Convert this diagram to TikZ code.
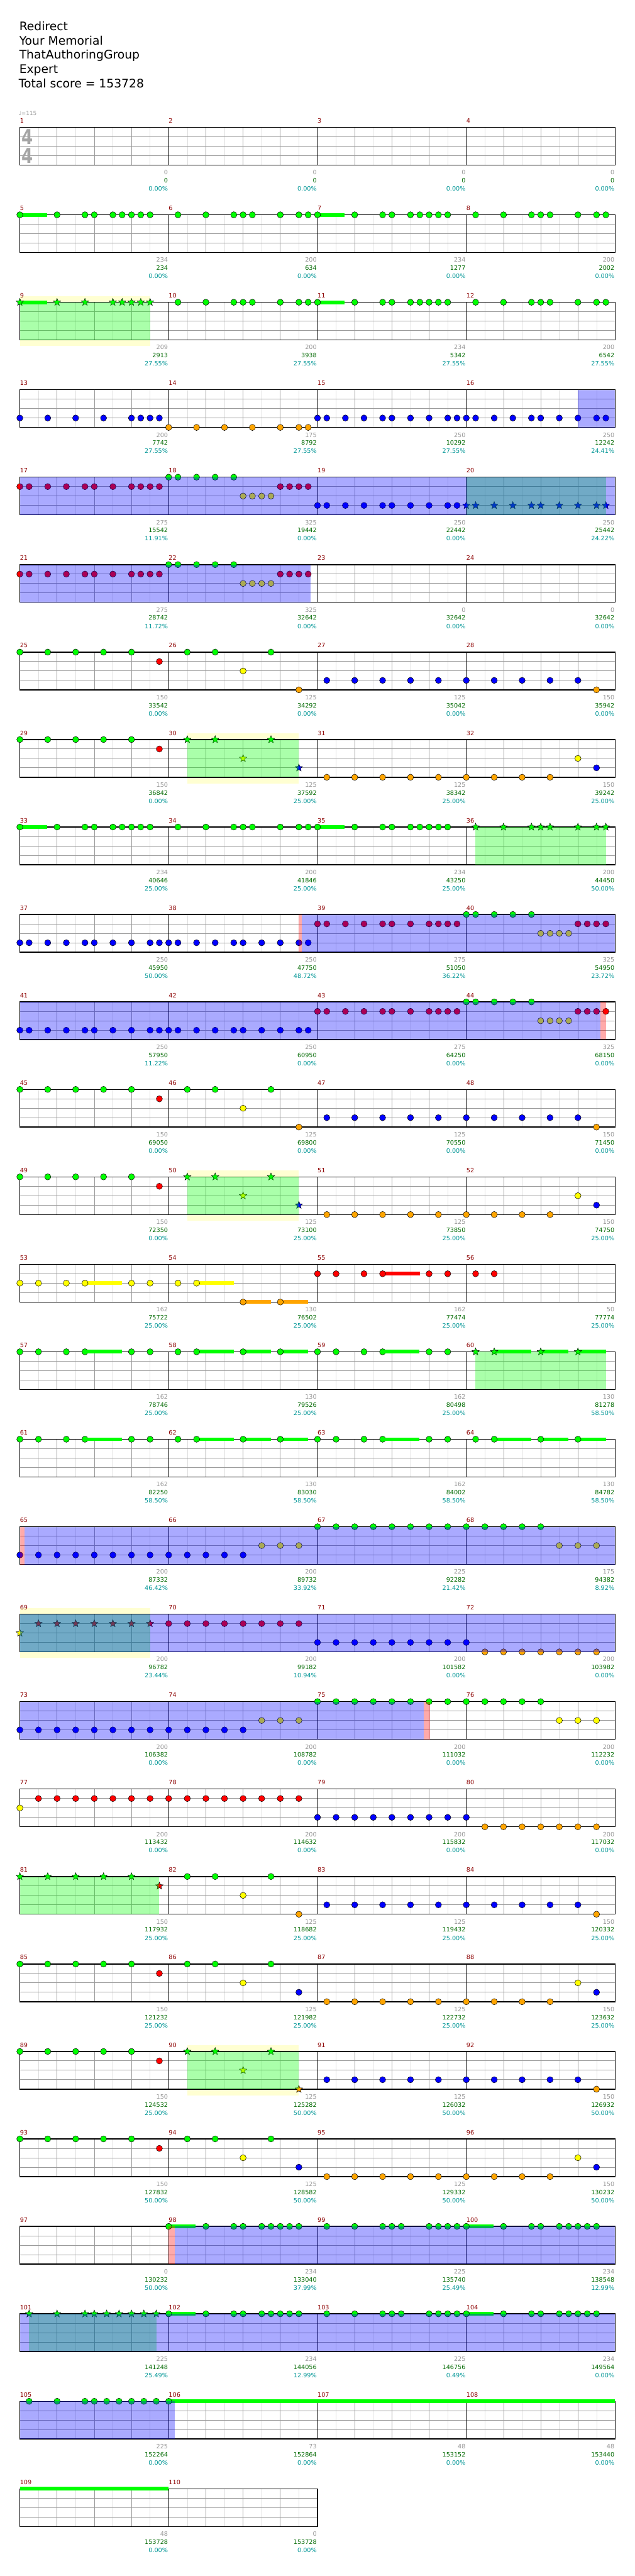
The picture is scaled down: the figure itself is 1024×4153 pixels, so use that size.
\documentclass[tikz,border=0pt]{standalone}
\usepackage{fontspec}
\setmainfont{DejaVu Sans}
\usetikzlibrary{shapes.geometric}
\definecolor{cG}{RGB}{0,255,0}
\definecolor{cR}{RGB}{255,0,0}
\definecolor{cY}{RGB}{255,255,0}
\definecolor{cB}{RGB}{0,0,255}
\definecolor{cO}{RGB}{255,165,0}
\definecolor{mred}{RGB}{140,0,0}
\definecolor{tgray}{RGB}{150,150,150}
\definecolor{tgreen}{RGB}{0,105,0}
\definecolor{tcyan}{RGB}{0,150,150}
\definecolor{ybgc}{RGB}{255,255,210}
\definecolor{lgray}{RGB}{222,222,222}
\definecolor{mgray}{RGB}{155,155,155}
\definecolor{tsig}{RGB}{165,165,165}
% geometry helpers
\newcommand\mxy[3]{%
  \pgfmathsetmacro\nx{32+240*mod(#1-1,4)+15*#2}%
  \pgfmathsetmacro\ny{205.3+141*floor((#1-1)/4)+15.2*#3}%
}
\newcommand\nts[4]{\foreach \tv in {#3}{\mxy{#1}{\tv}{#2}\filldraw[fill=#4,draw=black,line width=0.5pt] (\nx,\ny) circle[radius=5pt];}}
\newcommand\sts[4]{\foreach \tv in {#3}{\mxy{#1}{\tv}{#2}\node[starnote,fill=#4] at (\nx,\ny) {};}}
\newcommand\nG[2]{\nts{#1}{0}{#2}{cG}}
\newcommand\nR[2]{\nts{#1}{1}{#2}{cR}}
\newcommand\nY[2]{\nts{#1}{2}{#2}{cY}}
\newcommand\nB[2]{\nts{#1}{3}{#2}{cB}}
\newcommand\nO[2]{\nts{#1}{4}{#2}{cO}}
\newcommand\sG[2]{\sts{#1}{0}{#2}{cG}}
\newcommand\sR[2]{\sts{#1}{1}{#2}{cR}}
\newcommand\sY[2]{\sts{#1}{2}{#2}{cY}}
\newcommand\sB[2]{\sts{#1}{3}{#2}{cB}}
\newcommand\sO[2]{\sts{#1}{4}{#2}{cO}}
\newcommand\sus[5]{\mxy{#1}{#3}{#2}\let\xa\nx\mxy{#1}{#4}{#2}\fill[#5] (\xa,\ny-3) rectangle (\nx,\ny+3);}
\newcommand\ovl[5]{\mxy{#1}{#2}{0}\let\xa\nx\let\ya\ny\mxy{#3}{#4}{4}\fill[#5] (\xa,\ya) rectangle (\nx,\ny);}
\newcommand\ybg[3]{\mxy{#1}{#2}{0}\let\xa\nx\let\ya\ny\mxy{#1}{#3}{4}\fill[ybgc] (\xa,\ya-10) rectangle (\nx,\ny+10);}
\newcommand\staff[2]{%
  \pgfmathsetmacro\tp{205.3+141*#1}%
  \pgfmathsetmacro\bt{\tp+60.8}%
  \pgfmathsetmacro\rx{32+240*#2}%
  \pgfmathtruncatemacro\nm{#2-1}%
  \fill[white] (32,\tp) rectangle (\rx,\bt);
  \foreach \j in {0,...,\nm}{%
    \foreach \dd in {30,90,150,210}{\draw[gEighth] (32+240*\j+\dd,\tp) -- ++(0,60.8);}
    \foreach \dd in {60,120,180}{\draw[gBeat] (32+240*\j+\dd,\tp) -- ++(0,60.8);}}
  \foreach \k in {1,2,3}{\draw[gLane] (32,\tp+15.2*\k) -- (\rx,\tp+15.2*\k);}
  \foreach \j in {1,...,\nm}{\draw[gBar] (32+240*\j,\tp) -- ++(0,60.8);}
  \draw[gBorder] (32,\tp) rectangle (\rx,\bt);
}
\newcommand\mtext[4]{%
  \pgfmathsetmacro\xl{32+240*mod(#1-1,4)}%
  \pgfmathsetmacro\tp{205.3+141*floor((#1-1)/4)}%
  \node[mnum] (m#1) at (\xl,\tp-7) {#1};
  \node[sA] (a#1) at (\xl+239,\tp+76.4) {#2};
  \node[sB] (b#1) at (\xl+239,\tp+89.4) {#3};
  \node[sC] (c#1) at (\xl+239,\tp+102.6) {#4\%};
}
% patterns
\newcommand\PA[1]{\sus{#1}{0}{0}{2.92}{cG}\nG{#1}{0,4,7,8,10,11,12,13,14}}
\newcommand\PB[1]{\nG{#1}{1,4,7,8,9,12,14,15}}
\newcommand\PRed[1]{\nR{#1}{0,1,3,5,7,8,10,12,13,14,15}}
\newcommand\PMix[1]{\nG{#1}{0,1,3,5,7}\nY{#1}{8,9,10,11}\nR{#1}{12,13,14,15}}
\newcommand\PBl[1]{\nB{#1}{0,1,3,5,7,8,10,12,14,15}}
\newcommand\PC[1]{\nG{#1}{0,3,6,9,12}\nR{#1}{15}}
\newcommand\PE[1]{\nG{#1}{0,2,5,7,12,14}\sus{#1}{0}{7}{10.95}{cG}}
\begin{document}
\begin{tikzpicture}[x=1pt,y=-1pt,
  gEighth/.style={draw=lgray,line width=0.6pt},
  gBeat/.style={draw=mgray,line width=0.7pt},
  gLane/.style={draw=mgray,line width=0.9pt},
  gBar/.style={draw=black,line width=0.8pt},
  gBorder/.style={draw=black,line width=1.4pt},
  starnote/.style={star,star points=5,star point ratio=2.3,minimum size=12.5pt,inner sep=0pt,draw=black,line width=0.5pt},
  gov/.style={fill=cG,fill opacity=0.333},
  bov/.style={fill=cB,fill opacity=0.333},
  pov/.style={fill=cR,fill opacity=0.333},
  small/.style={inner sep=0pt,font=\fontsize{9.8}{11}\selectfont},
  mnum/.style={small,anchor=base west,text=mred},
  sA/.style={small,anchor=base east,text=tgray},
  sB/.style={small,anchor=base east,text=tgreen},
  sC/.style={small,anchor=base east,text=tcyan},
  head/.style={inner sep=0pt,anchor=base west,font=\fontsize{19}{21}\selectfont}]
\useasboundingbox (0,0) rectangle (1024,4153);
\fill[white] (0,0) rectangle (1024,4153);
% header
\node[head] (h1) at (31,49.3) {Redirect};
\node[head] (h2) at (31,72.2) {Your Memorial};
\node[head] (h3) at (31,95.3) {ThatAuthoringGroup};
\node[head] (h4) at (31,118.4) {Expert};
\node[head] (h5) at (30,141.6) {Total score = 153728};
\node[inner sep=0pt,anchor=base west,text=tgray,font=\fontsize{9}{10}\selectfont] (tempo) at (30,185.7) {♩=115};
% yellow backgrounds
\ybg{9}{0}{14}\ybg{30}{2}{14}\ybg{50}{2}{14}\ybg{69}{0}{14}\ybg{90}{2}{14}
% staffs
\foreach \r in {0,...,26}{\staff{\r}{4}}
\staff{27}{2}
% time signature
\node[inner sep=0pt,text=tsig,font=\fontsize{33}{33}\bfseries] (ts1) at (44,220.8) {\scalebox{0.8}[1]{4}};
\node[inner sep=0pt,text=tsig,font=\fontsize{33}{33}\bfseries] (ts2) at (44,250.8) {\scalebox{0.8}[1]{4}};
% notes
\PA{5}\PB{6}\PA{7}\PB{8}
\sus{9}{0}{0}{2.92}{cG}\sG{9}{0,4,7,10,11,12,13,14}\PB{10}\PA{11}\PB{12}
\nB{13}{0,3,6,9,12,13,14,15}\nO{14}{0,3,6,9,12,14,15}\PBl{15}\PBl{16}
\PRed{17}\PMix{18}\PBl{19}\sB{20}{0,1,3,5,7,8,10,12,14,15}
\PRed{21}\PMix{22}
\PC{25}\nG{26}{2,5,11}\nY{26}{8}\nO{26}{14}\nB{27}{1,4,7,10,13}\nB{28}{0,3,6,9,12}\nO{28}{14}
\PC{29}\sG{30}{2,5,11}\sY{30}{8}\sB{30}{14}\nO{31}{1,4,7,10,13}\nO{32}{0,3,6,9}\nY{32}{12}\nB{32}{14}
\PA{33}\PB{34}\PA{35}\sG{36}{1,4,7,8,9,12,14,15}
\PBl{37}\PBl{38}\PRed{39}\PMix{40}
\PBl{41}\PBl{42}\PRed{43}\PMix{44}
\PC{45}\nG{46}{2,5,11}\nY{46}{8}\nO{46}{14}\nB{47}{1,4,7,10,13}\nB{48}{0,3,6,9,12}\nO{48}{14}
\PC{49}\sG{50}{2,5,11}\sY{50}{8}\sB{50}{14}\nO{51}{1,4,7,10,13}\nO{52}{0,3,6,9}\nY{52}{12}\nB{52}{14}
\sus{53}{2}{7}{10.95}{cY}\nY{53}{0,2,5,7,12,14}
\sus{54}{2}{3}{7}{cY}\nY{54}{1,3}\sus{54}{4}{8}{11}{cO}\sus{54}{4}{12}{15}{cO}\nO{54}{8,12}
\sus{55}{1}{7}{11}{cR}\nR{55}{0,2,5,7,12,14}\nR{56}{1,3}
\PE{57}\sus{58}{0}{3}{7}{cG}\sus{58}{0}{8}{11}{cG}\sus{58}{0}{12}{15}{cG}\nG{58}{1,3,8,12}
\PE{59}\sus{60}{0}{3}{7}{cG}\sus{60}{0}{8}{11}{cG}\sus{60}{0}{12}{15}{cG}\sG{60}{1,3,8,12}
\PE{61}\sus{62}{0}{3}{7}{cG}\sus{62}{0}{8}{11}{cG}\sus{62}{0}{12}{15}{cG}\nG{62}{1,3,8,12}
\PE{63}\sus{64}{0}{3}{7}{cG}\sus{64}{0}{8}{11}{cG}\sus{64}{0}{12}{15}{cG}\nG{64}{1,3,8,12}
\nB{65}{0,2,4,6,8,10,12,14}\nB{66}{0,2,4,6,8}\nY{66}{10,12,14}\nG{67}{0,2,4,6,8,10,12,14}\nG{68}{0,2,4,6,8}\nY{68}{10,12,14}
\sY{69}{0}\sR{69}{2,4,6,8,10,12,14}\nR{70}{0,2,4,6,8,10,12,14}\nB{71}{0,2,4,6,8,10,12,14}\nB{72}{0}\nO{72}{2,4,6,8,10,12,14}
\nB{73}{0,2,4,6,8,10,12,14}\nB{74}{0,2,4,6,8}\nY{74}{10,12,14}\nG{75}{0,2,4,6,8,10,12,14}\nG{76}{0,2,4,6,8}\nY{76}{10,12,14}
\nY{77}{0}\nR{77}{2,4,6,8,10,12,14}\nR{78}{0,2,4,6,8,10,12,14}\nB{79}{0,2,4,6,8,10,12,14}\nB{80}{0}\nO{80}{2,4,6,8,10,12,14}
\sG{81}{0,3,6,9,12}\sR{81}{15}\nG{82}{2,5,11}\nY{82}{8}\nO{82}{14}\nB{83}{1,4,7,10,13}\nB{84}{0,3,6,9,12}\nO{84}{14}
\PC{85}\nG{86}{2,5,11}\nY{86}{8}\nB{86}{14}\nO{87}{1,4,7,10,13}\nO{88}{0,3,6,9}\nY{88}{12}\nB{88}{14}
\PC{89}\sG{90}{2,5,11}\sY{90}{8}\sO{90}{14}\nB{91}{1,4,7,10,13}\nB{92}{0,3,6,9,12}\nO{92}{14}
\PC{93}\nG{94}{2,5,11}\nY{94}{8}\nB{94}{14}\nO{95}{1,4,7,10,13}\nO{96}{0,3,6,9}\nY{96}{12}\nB{96}{14}
\PA{98}\nG{99}{1,4,7,8,9,12,13,14,15}\PA{100}
\sG{101}{1,4,7,8,9.333,10.667,12,13.333,14.667}\PA{102}\nG{103}{1,4,7,8,9,12,13,14,15}\PA{104}
\nG{105}{1,4,7,8,9.333,10.667,12,13.333,14.667}
\sus{106}{0}{0}{16}{cG}\sus{107}{0}{0}{16}{cG}\sus{108}{0}{0}{16}{cG}\nG{106}{0}
\sus{109}{0}{0}{16}{cG}
% star power phrase regions
\ovl{9}{0}{9}{14}{gov}\ovl{20}{0}{20}{15}{gov}\ovl{30}{2}{30}{14}{gov}\ovl{36}{1}{36}{15}{gov}
\ovl{50}{2}{50}{14}{gov}\ovl{60}{1}{60}{15}{gov}\ovl{69}{0}{69}{14}{gov}\ovl{81}{0}{81}{15}{gov}
\ovl{90}{2}{90}{14}{gov}\ovl{101}{1}{101}{14.667}{gov}
% activation regions
\ovl{16}{12}{16}{16}{bov}
\ovl{17}{0}{20}{16}{bov}
\ovl{21}{0}{22}{15.25}{bov}
\ovl{38}{14.3}{40}{16}{bov}\ovl{38}{14}{38}{14.3}{pov}
\ovl{41}{0}{44}{14.4}{bov}\ovl{44}{14.4}{44}{15}{pov}
\ovl{65}{0.52}{68}{16}{bov}\ovl{65}{0}{65}{0.52}{pov}
\ovl{69}{0}{72}{16}{bov}
\ovl{73}{0}{75}{11.4}{bov}\ovl{75}{11.4}{75}{12.1}{pov}
\ovl{98}{0.65}{100}{16}{bov}\ovl{98}{0}{98}{0.65}{pov}
\ovl{101}{0}{104}{16}{bov}
\ovl{105}{0}{106}{0.65}{bov}
% measure texts
\foreach \m/\ga/\gb/\pc in {1/0/0/0.00, 2/0/0/0.00, 3/0/0/0.00, 4/0/0/0.00,
5/234/234/0.00, 6/200/634/0.00, 7/234/1277/0.00, 8/200/2002/0.00,
9/209/2913/27.55, 10/200/3938/27.55, 11/234/5342/27.55, 12/200/6542/27.55,
13/200/7742/27.55, 14/175/8792/27.55, 15/250/10292/27.55, 16/250/12242/24.41,
17/275/15542/11.91, 18/325/19442/0.00, 19/250/22442/0.00, 20/250/25442/24.22,
21/275/28742/11.72, 22/325/32642/0.00, 23/0/32642/0.00, 24/0/32642/0.00,
25/150/33542/0.00, 26/125/34292/0.00, 27/125/35042/0.00, 28/150/35942/0.00,
29/150/36842/0.00, 30/125/37592/25.00, 31/125/38342/25.00, 32/150/39242/25.00,
33/234/40646/25.00, 34/200/41846/25.00, 35/234/43250/25.00, 36/200/44450/50.00,
37/250/45950/50.00, 38/250/47750/48.72, 39/275/51050/36.22, 40/325/54950/23.72,
41/250/57950/11.22, 42/250/60950/0.00, 43/275/64250/0.00, 44/325/68150/0.00,
45/150/69050/0.00, 46/125/69800/0.00, 47/125/70550/0.00, 48/150/71450/0.00,
49/150/72350/0.00, 50/125/73100/25.00, 51/125/73850/25.00, 52/150/74750/25.00,
53/162/75722/25.00, 54/130/76502/25.00, 55/162/77474/25.00, 56/50/77774/25.00,
57/162/78746/25.00, 58/130/79526/25.00, 59/162/80498/25.00, 60/130/81278/58.50,
61/162/82250/58.50, 62/130/83030/58.50, 63/162/84002/58.50, 64/130/84782/58.50,
65/200/87332/46.42, 66/200/89732/33.92, 67/225/92282/21.42, 68/175/94382/8.92,
69/200/96782/23.44, 70/200/99182/10.94, 71/200/101582/0.00, 72/200/103982/0.00,
73/200/106382/0.00, 74/200/108782/0.00, 75/200/111032/0.00, 76/200/112232/0.00,
77/200/113432/0.00, 78/200/114632/0.00, 79/200/115832/0.00, 80/200/117032/0.00,
81/150/117932/25.00, 82/125/118682/25.00, 83/125/119432/25.00, 84/150/120332/25.00,
85/150/121232/25.00, 86/125/121982/25.00, 87/125/122732/25.00, 88/150/123632/25.00,
89/150/124532/25.00, 90/125/125282/50.00, 91/125/126032/50.00, 92/150/126932/50.00,
93/150/127832/50.00, 94/125/128582/50.00, 95/125/129332/50.00, 96/150/130232/50.00,
97/0/130232/50.00, 98/234/133040/37.99, 99/225/135740/25.49, 100/234/138548/12.99,
101/225/141248/25.49, 102/234/144056/12.99, 103/225/146756/0.49, 104/234/149564/0.00,
105/225/152264/0.00, 106/73/152864/0.00, 107/48/153152/0.00, 108/48/153440/0.00,
109/48/153728/0.00, 110/0/153728/0.00}{\mtext{\m}{\ga}{\gb}{\pc}}
\end{tikzpicture}
\end{document}
